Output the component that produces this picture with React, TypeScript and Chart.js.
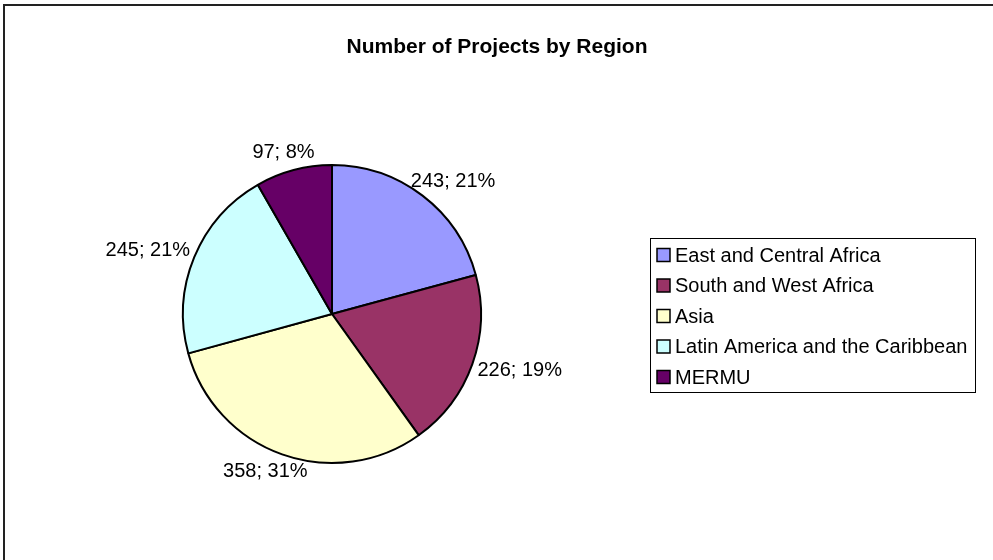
import React, { useEffect, useRef } from "react";
import { Chart, registerables } from "chart.js";
Chart.register(...registerables);

const chartTitle = "Number of Projects by Region";
const regions = [
  "East and Central Africa",
  "South and West Africa",
  "Asia",
  "Latin America and the Caribbean",
  "MERMU",
];
const projects = [243, 226, 358, 245, 97];
const colors = ["#9999FF", "#993366", "#FFFFCC", "#CCFFFF", "#660066"];

const FONT = '"Liberation Sans", Arial, sans-serif';

const decorPlugin = {
  id: "decor",
  afterDraw(chart: any) {
    const ctx = chart.ctx;
    ctx.save();
    // outer frame
    ctx.strokeStyle = "#222";
    ctx.lineWidth = 2;
    ctx.beginPath();
    ctx.moveTo(4, 600);
    ctx.lineTo(4, 5);
    ctx.lineTo(1000, 5);
    ctx.stroke();

    // title
    ctx.fillStyle = "#000";
    ctx.font = `bold 21px ${FONT}`;
    ctx.textAlign = "center";
    ctx.textBaseline = "middle";
    ctx.fillText(chartTitle, 497, 47);

    // data labels
    const meta = chart.getDatasetMeta(0);
    const data = chart.data.datasets[0].data as number[];
    const total = data.reduce((a, b) => a + b, 0);
    ctx.font = `20px ${FONT}`;
    meta.data.forEach((arc: any, i: number) => {
      const p = arc.getProps(["x", "y", "startAngle", "endAngle", "outerRadius"], true);
      const mid = (p.startAngle + p.endAngle) / 2;
      const cx = Math.cos(mid);
      const cy = Math.sin(mid);
      const txt = `${data[i]}; ${Math.round((data[i] / total) * 100)}%`;
      const w = ctx.measureText(txt).width;
      const h = 20;
      const r = p.outerRadius + 8;
      const tx = p.x + cx * r + cx * (w / 2);
      const ty = p.y + cy * r + cy * (h / 2);
      ctx.fillText(txt, tx, ty);
    });

    // legend
    const lx = 650, ly = 238, lw = 325, lh = 154;
    ctx.strokeStyle = "#000";
    ctx.lineWidth = 1;
    ctx.strokeRect(lx + 0.5, ly + 0.5, lw, lh);
    ctx.textAlign = "left";
    ctx.font = `20px ${FONT}`;
    const labels = chart.data.labels as string[];
    const bg = chart.data.datasets[0].backgroundColor as string[];
    labels.forEach((lab, i) => {
      const yy = ly + 17 + i * 30.5;
      ctx.fillStyle = bg[i];
      ctx.fillRect(657, yy - 6.5, 13, 13);
      ctx.strokeStyle = "#000";
      ctx.lineWidth = 1.5;
      ctx.strokeRect(657, yy - 6.5, 13, 13);
      ctx.fillStyle = "#000";
      ctx.fillText(lab, 675, yy + 1);
    });
    ctx.restore();
  },
};

export default function App() {
  const ref = useRef<HTMLCanvasElement>(null);
  useEffect(() => {
    if (!ref.current) return;
    const chart = new Chart(ref.current, {
      type: "pie",
      data: {
        labels: regions,
        datasets: [
          {
            data: projects,
            backgroundColor: colors,
            borderColor: "#000",
            borderWidth: 2,
          },
        ],
      },
      options: {
        responsive: false,
        animation: false,
        events: [],
        layout: { padding: { left: 182, right: 511, top: 164, bottom: 96 } },
        plugins: {
          legend: { display: false },
          tooltip: { enabled: false },
          title: { display: false },
        },
      },
      plugins: [decorPlugin],
    });
    return () => chart.destroy();
  }, []);
  return (
    <div style={{ position: "fixed", left: 0, top: 0, width: 993, height: 560, background: "#fff" }}>
      <canvas ref={ref} width={993} height={560} style={{ width: 993, height: 560 }} />
    </div>
  );
}
